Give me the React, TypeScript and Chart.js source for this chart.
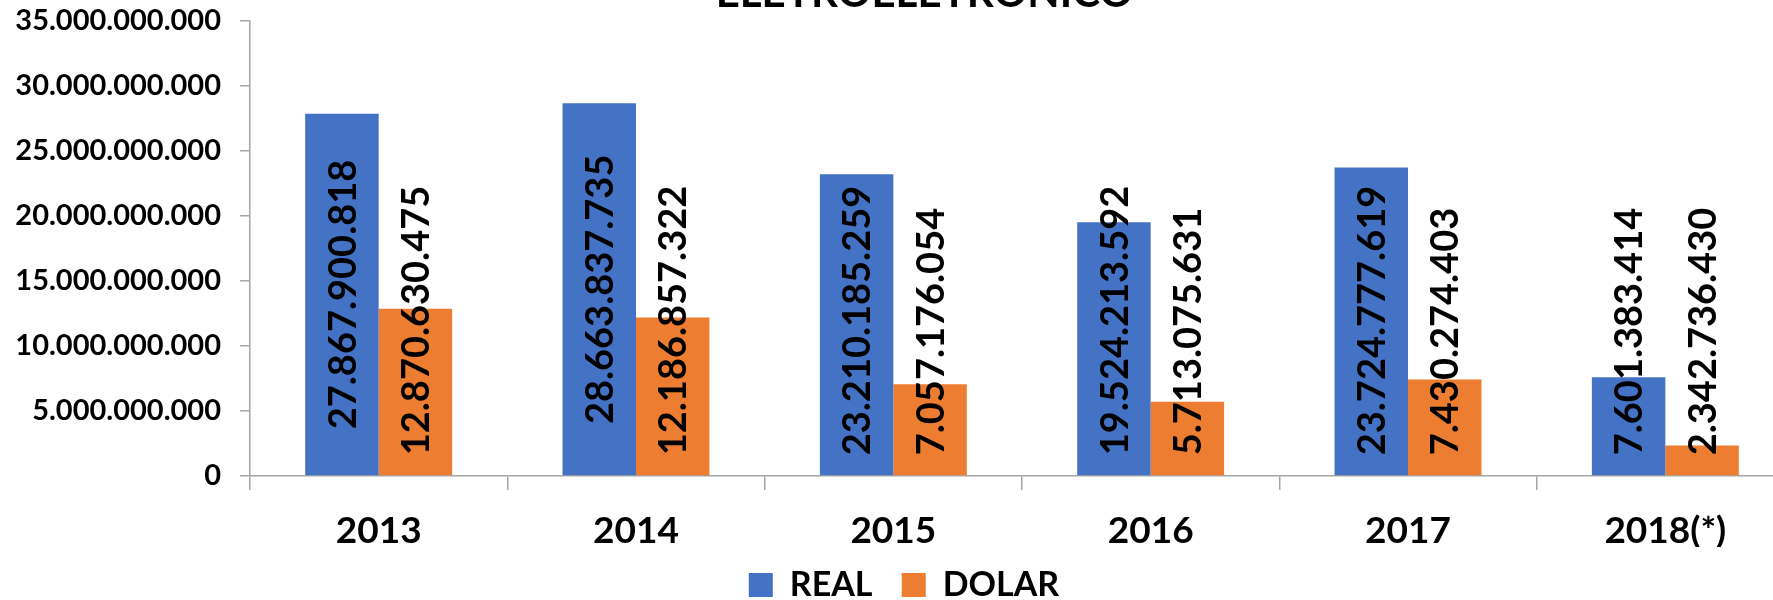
import React, { useEffect, useRef } from 'react';
import { Chart, registerables } from 'chart.js';

Chart.register(...registerables);

const chartTitle = 'ELETROELETRONICO';
const categories = ['2013', '2014', '2015', '2016', '2017', '2018(*)'];
const seriesNames = ['REAL', 'DOLAR'];
const realValues = [27867900818, 28663837735, 23210185259, 19524213592, 23724777619, 7601383414];
const dolarValues = [12870630475, 12186857322, 7057176054, 5713075631, 7430274403, 2342736430];
const seriesColors = ['#4472C4', '#ED7D31'];
const yTickValues = [0, 5000000000, 10000000000, 15000000000, 20000000000, 25000000000, 30000000000, 35000000000];

const FONT = 'Lato';
const AXIS_COLOR = '#a6a6a6';

const fmt = (v: number) => Math.round(v).toString().replace(/\B(?=(\d{3})+(?!\d))/g, '.');

const barLabels = {
  id: 'barLabels',
  afterDatasetsDraw(chart: any) {
    const ctx = chart.ctx;
    const size = 38;
    ctx.save();
    ctx.font = `bold ${size}px ${FONT}`;
    ctx.fillStyle = '#000';
    ctx.textAlign = 'center';
    ctx.textBaseline = 'alphabetic';
    const capH = size * 0.72;
    chart.data.datasets.forEach((ds: any, di: number) => {
      const meta = chart.getDatasetMeta(di);
      meta.data.forEach((bar: any, i: number) => {
        const { x, y, base } = bar.getProps(['x', 'y', 'base'], true);
        const text = fmt(ds.data[i]);
        const w = ctx.measureText(text).width;
        let cy = (y + base) / 2;
        cy = Math.min(cy, base - 20 - w / 2);
        ctx.save();
        ctx.translate(x, cy);
        ctx.rotate(-Math.PI / 2);
        ctx.fillText(text, 0, capH / 2);
        ctx.restore();
      });
    });
    ctx.restore();
  },
};

export default function App() {
  const ref = useRef<HTMLCanvasElement | null>(null);

  useEffect(() => {
    if (!ref.current) return;
    const chart = new Chart(ref.current, {
      type: 'bar',
      data: {
        labels: categories,
        datasets: [
          { label: seriesNames[0], data: realValues, backgroundColor: seriesColors[0], categoryPercentage: 0.571, barPercentage: 1.0 },
          { label: seriesNames[1], data: dolarValues, backgroundColor: seriesColors[1], categoryPercentage: 0.571, barPercentage: 1.0 },
        ],
      },
      options: {
        responsive: false,
        animation: false,
        devicePixelRatio: 1,
        layout: { padding: { left: 14, right: 0, top: 0, bottom: 0 } },
        plugins: {
          title: {
            display: true,
            text: '    ' + chartTitle,
            color: '#000',
            font: { family: FONT, size: 42, weight: 'bold' },
            padding: { top: -2, bottom: 2.6 },
          },
          legend: {
            position: 'bottom',
            labels: {
              boxWidth: 24,
              boxHeight: 24,
              padding: 21,
              color: '#000',
              font: { family: FONT, size: 34, weight: 'bold' },
              generateLabels: (chart: any) => {
                const items = Chart.defaults.plugins.legend.labels.generateLabels(chart);
                return items.map((it: any, i: number) => ({ ...it, text: i < items.length - 1 ? it.text + ' ' : it.text }));
              },
            },
          },
          tooltip: { enabled: false },
        },
        scales: {
          x: {
            grid: { drawOnChartArea: false, drawTicks: true, tickLength: 14, color: AXIS_COLOR, lineWidth: 1.5 },
            border: { display: true, color: AXIS_COLOR, width: 1.5 },
            ticks: { color: '#000', padding: 19, font: { family: FONT, size: 37, weight: 'bold' } },
            afterFit: (s: any) => { s.height = 71; },
          },
          y: {
            min: 0,
            max: 35000000000,
            afterBuildTicks: (s: any) => { s.ticks = yTickValues.map((v) => ({ value: v })); },
            grid: { drawOnChartArea: false, drawTicks: true, tickLength: 10, color: AXIS_COLOR, lineWidth: 1.5 },
            border: { display: true, color: AXIS_COLOR, width: 1.5 },
            ticks: {
              color: '#000',
              padding: 19,
              font: { family: FONT, size: 29, weight: 'bold' },
              callback: (v: any) => fmt(Number(v)),
            },
            afterFit: (s: any) => { s.width = 236; },
          },
        },
      },
      plugins: [barLabels],
    });
    return () => chart.destroy();
  }, []);

  return (
    <div style={{ position: 'fixed', left: 0, top: 0, width: 1773, height: 600, overflow: 'hidden', background: '#fff' }}>
      <canvas ref={ref} width={1794} height={642} style={{ position: 'absolute', left: 0, top: -30 }} />
    </div>
  );
}
